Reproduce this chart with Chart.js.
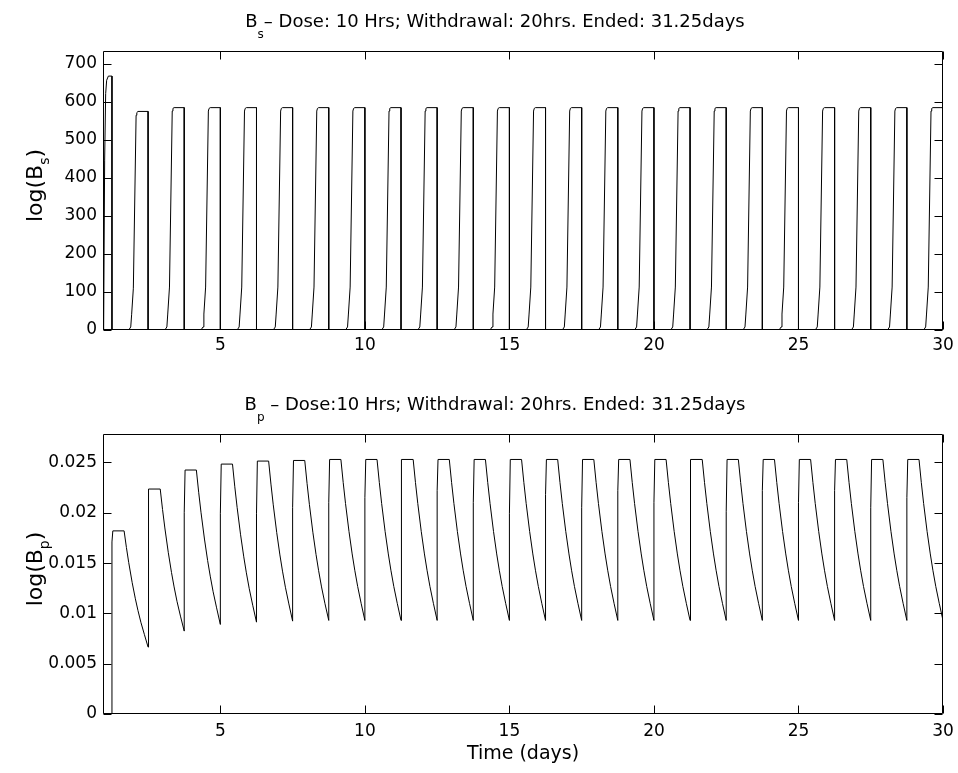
<!DOCTYPE html>
<html>
<head>
<meta charset="utf-8">
<script src="https://cdn.jsdelivr.net/npm/chart.js@4.4.0/dist/chart.umd.min.js"></script>
<style>
  html, body { margin: 0; padding: 0; background: #fff; }
  #wrap { position: relative; width: 958px; height: 773px; }
  canvas { position: absolute; left: 0; }
  #bsChart { top: 0; }
  #bpChart { top: 386px; }
</style>
</head>
<body>
<div id="wrap">
  <canvas id="bsChart" width="958" height="386"></canvas>
  <canvas id="bpChart" width="958" height="387"></canvas>
</div>
<script>
// axis ticks
const timeTicks = [5, 10, 15, 20, 25, 30];
const bsTicks = [0, 100, 200, 300, 400, 500, 600, 700];
const bpTicks = [0, 0.005, 0.01, 0.015, 0.02, 0.025];

// B_s : one dose cycle per line (rise, plateau, drop at end of dose)
const bsTime = [
  0.94, 0.963, 0.997, 1.032, 1.067, 1.125, 1.25, 1.25,
  1.83, 1.90, 1.93, 1.99, 2.085, 2.11, 2.15, 2.5, 2.5,
  3.08, 3.15, 3.18, 3.24, 3.335, 3.36, 3.40, 3.75, 3.75,
  4.33, 4.40, 4.43, 4.49, 4.585, 4.61, 4.65, 5, 5,
  5.58, 5.65, 5.68, 5.74, 5.835, 5.86, 5.90, 6.25, 6.25,
  6.83, 6.90, 6.93, 6.99, 7.085, 7.11, 7.15, 7.5, 7.5,
  8.08, 8.15, 8.18, 8.24, 8.335, 8.36, 8.40, 8.75, 8.75,
  9.33, 9.40, 9.43, 9.49, 9.585, 9.61, 9.65, 10, 10,
  10.58, 10.65, 10.68, 10.74, 10.835, 10.86, 10.90, 11.25, 11.25,
  11.83, 11.90, 11.93, 11.99, 12.085, 12.11, 12.15, 12.5, 12.5,
  13.08, 13.15, 13.18, 13.24, 13.335, 13.36, 13.40, 13.75, 13.75,
  14.33, 14.40, 14.43, 14.49, 14.585, 14.61, 14.65, 15, 15,
  15.58, 15.65, 15.68, 15.74, 15.835, 15.86, 15.90, 16.25, 16.25,
  16.83, 16.90, 16.93, 16.99, 17.085, 17.11, 17.15, 17.5, 17.5,
  18.08, 18.15, 18.18, 18.24, 18.335, 18.36, 18.40, 18.75, 18.75,
  19.33, 19.40, 19.43, 19.49, 19.585, 19.61, 19.65, 20, 20,
  20.58, 20.65, 20.68, 20.74, 20.835, 20.86, 20.90, 21.25, 21.25,
  21.83, 21.90, 21.93, 21.99, 22.085, 22.11, 22.15, 22.5, 22.5,
  23.08, 23.15, 23.18, 23.24, 23.335, 23.36, 23.40, 23.75, 23.75,
  24.33, 24.40, 24.43, 24.49, 24.585, 24.61, 24.65, 25, 25,
  25.58, 25.65, 25.68, 25.74, 25.835, 25.86, 25.90, 26.25, 26.25,
  26.83, 26.90, 26.93, 26.99, 27.085, 27.11, 27.15, 27.5, 27.5,
  28.08, 28.15, 28.18, 28.24, 28.335, 28.36, 28.40, 28.75, 28.75,
  29.33, 29.40, 29.43, 29.49, 29.585, 29.61, 29.65, 30, 30
];
const bsLevel = [
  0, 10, 447, 622, 657, 668, 668, 0,
  0, 8, 40, 110, 565, 572, 575, 575, 0,
  0, 8, 42, 113, 576, 583, 585, 585, 0,
  0, 8, 42, 113, 576, 583, 585, 585, 0,
  0, 8, 42, 113, 576, 583, 585, 585, 0,
  0, 8, 42, 113, 576, 583, 585, 585, 0,
  0, 8, 42, 113, 576, 583, 585, 585, 0,
  0, 8, 42, 113, 576, 583, 585, 585, 0,
  0, 8, 42, 113, 576, 583, 585, 585, 0,
  0, 8, 42, 113, 576, 583, 585, 585, 0,
  0, 8, 42, 113, 576, 583, 585, 585, 0,
  0, 8, 42, 113, 576, 583, 585, 585, 0,
  0, 8, 42, 113, 576, 583, 585, 585, 0,
  0, 8, 42, 113, 576, 583, 585, 585, 0,
  0, 8, 42, 113, 576, 583, 585, 585, 0,
  0, 8, 42, 113, 576, 583, 585, 585, 0,
  0, 8, 42, 113, 576, 583, 585, 585, 0,
  0, 8, 42, 113, 576, 583, 585, 585, 0,
  0, 8, 42, 113, 576, 583, 585, 585, 0,
  0, 8, 42, 113, 576, 583, 585, 585, 0,
  0, 8, 42, 113, 576, 583, 585, 585, 0,
  0, 8, 42, 113, 576, 583, 585, 585, 0,
  0, 8, 42, 113, 576, 583, 585, 585, 0,
  0, 8, 42, 113, 576, 583, 585, 585, 0
];

// B_p : jump at end of dose, hold, then decay until the next dose ends
const bpTime = [
  0.94,
  1.25, 1.25, 1.28, 1.67, 1.75, 1.83, 1.95, 2.06, 2.15, 2.25, 2.37,
  2.5, 2.5, 2.53, 2.92, 3, 3.08, 3.2, 3.31, 3.4, 3.5, 3.62,
  3.75, 3.75, 3.78, 4.17, 4.25, 4.33, 4.45, 4.56, 4.65, 4.75, 4.87,
  5, 5, 5.03, 5.42, 5.5, 5.58, 5.7, 5.81, 5.9, 6, 6.12,
  6.25, 6.25, 6.28, 6.67, 6.75, 6.83, 6.95, 7.06, 7.15, 7.25, 7.37,
  7.5, 7.5, 7.53, 7.92, 8, 8.08, 8.2, 8.31, 8.4, 8.5, 8.62,
  8.75, 8.75, 8.78, 9.17, 9.25, 9.33, 9.45, 9.56, 9.65, 9.75, 9.87,
  10, 10, 10.03, 10.42, 10.5, 10.58, 10.7, 10.81, 10.9, 11, 11.12,
  11.25, 11.25, 11.28, 11.67, 11.75, 11.83, 11.95, 12.06, 12.15, 12.25, 12.37,
  12.5, 12.5, 12.53, 12.92, 13, 13.08, 13.2, 13.31, 13.4, 13.5, 13.62,
  13.75, 13.75, 13.78, 14.17, 14.25, 14.33, 14.45, 14.56, 14.65, 14.75, 14.87,
  15, 15, 15.03, 15.42, 15.5, 15.58, 15.7, 15.81, 15.9, 16, 16.12,
  16.25, 16.25, 16.28, 16.67, 16.75, 16.83, 16.95, 17.06, 17.15, 17.25, 17.37,
  17.5, 17.5, 17.53, 17.92, 18, 18.08, 18.2, 18.31, 18.4, 18.5, 18.62,
  18.75, 18.75, 18.78, 19.17, 19.25, 19.33, 19.45, 19.56, 19.65, 19.75, 19.87,
  20, 20, 20.03, 20.42, 20.5, 20.58, 20.7, 20.81, 20.9, 21, 21.12,
  21.25, 21.25, 21.28, 21.67, 21.75, 21.83, 21.95, 22.06, 22.15, 22.25, 22.37,
  22.5, 22.5, 22.53, 22.92, 23, 23.08, 23.2, 23.31, 23.4, 23.5, 23.62,
  23.75, 23.75, 23.78, 24.17, 24.25, 24.33, 24.45, 24.56, 24.65, 24.75, 24.87,
  25, 25, 25.03, 25.42, 25.5, 25.58, 25.7, 25.81, 25.9, 26, 26.12,
  26.25, 26.25, 26.28, 26.67, 26.75, 26.83, 26.95, 27.06, 27.15, 27.25, 27.37,
  27.5, 27.5, 27.53, 27.92, 28, 28.08, 28.2, 28.31, 28.4, 28.5, 28.62,
  28.75, 28.75, 28.78, 29.17, 29.25, 29.33, 29.45, 29.56, 29.65, 29.75, 29.87,
  30
];
const bpLevel = [
  0,
  0, 0.0171, 0.0182, 0.0182, 0.01655, 0.01505, 0.01305, 0.01145, 0.01028, 0.00912, 0.00792,
  0.00665, 0.0167, 0.02236, 0.02236, 0.02033, 0.01849, 0.01603, 0.01406, 0.01263, 0.0112, 0.00973,
  0.00824, 0.02, 0.02425, 0.02425, 0.02204, 0.02005, 0.01739, 0.01525, 0.0137, 0.01215, 0.01055,
  0.0089, 0.0199, 0.02484, 0.02484, 0.02258, 0.02054, 0.01781, 0.01562, 0.01403, 0.01245, 0.01081,
  0.00913, 0.0199, 0.02514, 0.02514, 0.02285, 0.02079, 0.01803, 0.01581, 0.0142, 0.0126, 0.01094,
  0.00923, 0.0205, 0.0252, 0.0252, 0.02291, 0.02084, 0.01807, 0.01585, 0.01424, 0.01263, 0.01096,
  0.0093, 0.021, 0.0253, 0.0253, 0.023, 0.02092, 0.01814, 0.01591, 0.01429, 0.01268, 0.011,
  0.0093, 0.0215, 0.0253, 0.0253, 0.023, 0.02092, 0.01814, 0.01591, 0.01429, 0.01268, 0.011,
  0.0093, 0.0205, 0.0253, 0.0253, 0.023, 0.02092, 0.01814, 0.01591, 0.01429, 0.01268, 0.011,
  0.0093, 0.0222, 0.0253, 0.0253, 0.023, 0.02092, 0.01814, 0.01591, 0.01429, 0.01268, 0.011,
  0.0093, 0.021, 0.0253, 0.0253, 0.023, 0.02092, 0.01814, 0.01591, 0.01429, 0.01268, 0.011,
  0.0093, 0.0199, 0.0253, 0.0253, 0.023, 0.02092, 0.01814, 0.01591, 0.01429, 0.01268, 0.011,
  0.0093, 0.0218, 0.0253, 0.0253, 0.023, 0.02092, 0.01814, 0.01591, 0.01429, 0.01268, 0.011,
  0.0093, 0.0205, 0.0253, 0.0253, 0.023, 0.02092, 0.01814, 0.01591, 0.01429, 0.01268, 0.011,
  0.0093, 0.0222, 0.0253, 0.0253, 0.023, 0.02092, 0.01814, 0.01591, 0.01429, 0.01268, 0.011,
  0.0093, 0.021, 0.0253, 0.0253, 0.023, 0.02092, 0.01814, 0.01591, 0.01429, 0.01268, 0.011,
  0.0093, 0.0215, 0.0253, 0.0253, 0.023, 0.02092, 0.01814, 0.01591, 0.01429, 0.01268, 0.011,
  0.0093, 0.0201, 0.0253, 0.0253, 0.023, 0.02092, 0.01814, 0.01591, 0.01429, 0.01268, 0.011,
  0.0093, 0.0222, 0.0253, 0.0253, 0.023, 0.02092, 0.01814, 0.01591, 0.01429, 0.01268, 0.011,
  0.0093, 0.021, 0.0253, 0.0253, 0.023, 0.02092, 0.01814, 0.01591, 0.01429, 0.01268, 0.011,
  0.0093, 0.0222, 0.0253, 0.0253, 0.023, 0.02092, 0.01814, 0.01591, 0.01429, 0.01268, 0.011,
  0.0093, 0.0205, 0.0253, 0.0253, 0.023, 0.02092, 0.01814, 0.01591, 0.01429, 0.01268, 0.011,
  0.0093, 0.0215, 0.0253, 0.0253, 0.023, 0.02092, 0.01814, 0.01591, 0.01429, 0.01268, 0.011,
  0.0093, 0.021, 0.0253, 0.0253, 0.023, 0.02092, 0.01814, 0.01591, 0.01429, 0.01268, 0.011,
  0.0093
];

const FONT = '"DejaVu Sans", sans-serif';

// text with subscript pieces: [[text, isSub], ...]
function richWidth(ctx, parts, size) {
  let w = 0;
  parts.forEach(([txt, sub]) => {
    ctx.font = (sub ? Math.round(size * 0.65) : size) + 'px ' + FONT;
    w += ctx.measureText(txt).width;
  });
  return w;
}
function drawRich(ctx, parts, size, drop) {
  let x = 0;
  parts.forEach(([txt, sub]) => {
    ctx.font = (sub ? Math.round(size * 0.65) : size) + 'px ' + FONT;
    ctx.fillText(txt, x, sub ? size * drop : 0);
    x += ctx.measureText(txt).width;
  });
}

// box frame with inward ticks on all sides, plus title and axis labels
const boxAxes = {
  id: 'boxAxes',
  afterDraw(chart, args, opts) {
    const { ctx, chartArea: a, scales } = chart;
    const L = Math.round(a.left) + 0.5, R = Math.round(a.right) - 0.5;
    const T = Math.round(a.top) + 0.5, B = Math.round(a.bottom) - 0.5;
    const len = 8;
    ctx.save();
    ctx.strokeStyle = '#000';
    ctx.lineWidth = 1;
    ctx.beginPath();
    ctx.rect(L, T, R - L, B - T);
    scales.x.ticks.forEach(t => {
      const p = Math.round(scales.x.getPixelForValue(t.value)) + 0.5;
      ctx.moveTo(p, B); ctx.lineTo(p, B - len);
      ctx.moveTo(p, T); ctx.lineTo(p, T + len);
    });
    scales.y.ticks.forEach(t => {
      const p = Math.round(scales.y.getPixelForValue(t.value)) + 0.5;
      ctx.moveTo(L, p); ctx.lineTo(L + len, p);
      ctx.moveTo(R, p); ctx.lineTo(R - len, p);
    });
    ctx.stroke();

    ctx.fillStyle = '#000';
    ctx.textBaseline = 'alphabetic';
    ctx.textAlign = 'left';
    if (opts.title) {
      const w = richWidth(ctx, opts.title, 18);
      ctx.save();
      ctx.translate(opts.titleX - w / 2, a.top - 24);
      drawRich(ctx, opts.title, 18, 0.62);
      ctx.restore();
    }
    if (opts.ylabel) {
      const w = richWidth(ctx, opts.ylabel, 22);
      ctx.save();
      ctx.translate(42, (a.top + a.bottom) / 2 - 5 + w / 2);
      ctx.rotate(-Math.PI / 2);
      drawRich(ctx, opts.ylabel, 22, 0.3);
      ctx.restore();
    }
    if (opts.xlabel) {
      const w = richWidth(ctx, opts.xlabel, 19);
      ctx.save();
      ctx.translate((a.left + a.right) / 2 - w / 2, a.bottom + 45);
      drawRich(ctx, opts.xlabel, 19, 0.62);
      ctx.restore();
    }
    ctx.restore();
  }
};

function makeChart(id, time, level, yTicks, yMax, padTop, xHeight, xPad, text) {
  return new Chart(document.getElementById(id), {
    type: 'line',
    data: {
      datasets: [{
        data: time.map((t, i) => ({ x: t, y: level[i] })),
        borderColor: '#000',
        borderWidth: 1,
        pointRadius: 0,
        tension: 0,
        fill: false
      }]
    },
    options: {
      responsive: false,
      animation: false,
      devicePixelRatio: 1,
      layout: { padding: { left: 0, right: 15, top: padTop, bottom: 0 } },
      plugins: {
        legend: { display: false },
        tooltip: { enabled: false },
        boxAxes: text
      },
      scales: {
        x: {
          type: 'linear',
          min: 0.94,
          max: 30,
          afterBuildTicks: s => { s.ticks = timeTicks.map(v => ({ value: v })); },
          afterFit: s => {
            s.height = xHeight;
            s.paddingLeft = 0;
            s.paddingRight = 0;
          },
          grid: { display: false, drawTicks: false, tickLength: 0 },
          border: { display: false },
          ticks: {
            color: '#000',
            autoSkip: false,
            maxRotation: 0,
            padding: xPad,
            font: { family: FONT, size: 17 },
            callback: v => String(v)
          }
        },
        y: {
          type: 'linear',
          min: 0,
          max: yMax,
          afterBuildTicks: s => { s.ticks = yTicks.map(v => ({ value: v })); },
          afterFit: s => {
            s.width = 103;
            s.paddingTop = 0;
            s.paddingBottom = 0;
          },
          grid: { display: false, drawTicks: false, tickLength: 0 },
          border: { display: false },
          ticks: {
            color: '#000',
            autoSkip: false,
            padding: 6,
            font: { family: FONT, size: 17 },
            callback: v => String(v)
          }
        }
      }
    },
    plugins: [boxAxes]
  });
}

makeChart('bsChart', bsTime, bsLevel, bsTicks, 734, 51, 56, 5, {
  titleX: 495,
  title: [['B', false], ['s', true], ['\u2013 Dose: 10 Hrs; Withdrawal: 20hrs. Ended: 31.25days', false]],
  ylabel: [['log(B', false], ['s', true], [')', false]]
});

makeChart('bpChart', bpTime, bpLevel, bpTicks, 0.02783, 48, 59, 7, {
  titleX: 495,
  title: [['B', false], ['p', true], [' \u2013 Dose:10 Hrs; Withdrawal: 20hrs. Ended: 31.25days', false]],
  ylabel: [['log(B', false], ['p', true], [')', false]],
  xlabel: [['Time (days)', false]]
});
</script>
</body>
</html>
